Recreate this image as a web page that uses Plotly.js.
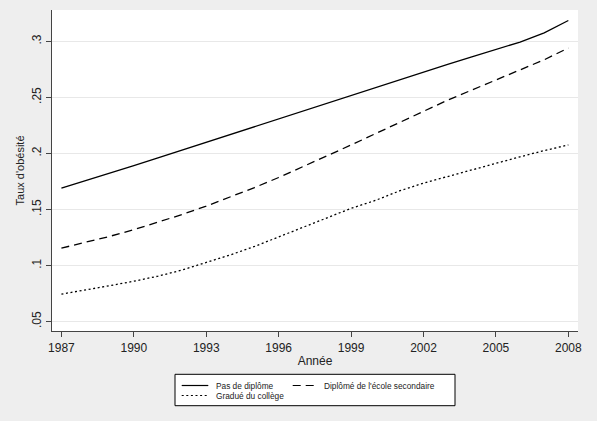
<!DOCTYPE html>
<html>
<head>
<meta charset="utf-8">
<script src="https://cdn.plot.ly/plotly-3.0.1.min.js"></script>
<style>html,body{margin:0;padding:0;background:#eeeeee;}#chart{width:597px;height:421px;}</style>
</head>
<body>
<div id="chart"></div>
<script>
// ---- Data ----
const years = [1987,1988,1989,1990,1991,1992,1993,1994,1995,1996,1997,1998,1999,2000,2001,2002,2003,2004,2005,2006,2007,2008];
const pasDeDiplome = [0.169,0.1755,0.182,0.189,0.196,0.203,0.210,0.217,0.224,0.231,0.238,0.245,0.252,0.259,0.266,0.273,0.2795,0.286,0.2925,0.2993,0.3075,0.3185];
const diplomeSecondaire = [0.1155,0.1205,0.126,0.132,0.1385,0.1455,0.153,0.161,0.1695,0.1785,0.188,0.1975,0.2075,0.2175,0.2275,0.238,0.2475,0.2565,0.2655,0.2745,0.2835,0.294];
const gradueCollege = [0.0745,0.078,0.082,0.086,0.0905,0.096,0.1025,0.1095,0.117,0.1255,0.134,0.1425,0.151,0.158,0.1665,0.1735,0.1795,0.1855,0.1915,0.197,0.2025,0.2075];
const seriesNames = ["Pas de diplôme","Diplômé de l'école secondaire","Gradué du collège"];
const xTickVals = [1987,1990,1993,1996,1999,2002,2005,2008];
const yTickVals = [0.05,0.10,0.15,0.20,0.25,0.30];
const yTickText = [".05",".1",".15",".2",".25",".3"];
const xTitle = "Année";
const yTitle = "Taux d'obésité";

// ---- Layout helpers ----
const W = 597, H = 421;
const M = {l:52, r:19, t:10, b:90};
const PW = W - M.l - M.r, PH = H - M.t - M.b;
const px2x = p => (p - M.l) / PW;
const px2y = p => (H - M.b - p) / PH;

const FONT = "Liberation Sans, Arial, Helvetica, sans-serif";
const dashes = ["solid", "8px,5px", "2px,2.6px"];
const seriesVals = [pasDeDiplome, diplomeSecondaire, gradueCollege];

const traces = seriesVals.map((vals, i) => ({
  x: years, y: vals, type: "scatter", mode: "lines", name: seriesNames[i],
  line: {color: "#000000", width: 1.3, dash: dashes[i]},
  showlegend: false, hoverinfo: "skip"
}));

// manual Stata-style legend
const legendItems = [
  {name: seriesNames[0], x0: 181.7, x1: 208.3, tx: 214, ty: 385.5, dash: "solid"},
  {name: seriesNames[1], x0: 292.7, x1: 316.7, tx: 321.5, ty: 385.5, dash: "8px,5px"},
  {name: seriesNames[2], x0: 181.7, x1: 209, tx: 214, ty: 395.5, dash: "2px,2.6px"}
];
const shapes = [{
  type: "rect", xref: "paper", yref: "paper",
  x0: px2x(175), x1: px2x(455), y0: px2y(405.7), y1: px2y(374.3),
  line: {color: "#000000", width: 1}, fillcolor: "#ffffff", layer: "above"
}];
const annotations = [];
legendItems.forEach(it => {
  shapes.push({type: "line", xref: "paper", yref: "paper",
    x0: px2x(it.x0), x1: px2x(it.x1), y0: px2y(it.ty), y1: px2y(it.ty),
    line: {color: "#000000", width: 1.2, dash: it.dash}, layer: "above"});
  annotations.push({xref: "paper", yref: "paper", x: px2x(it.tx), y: px2y(it.ty),
    xanchor: "left", yanchor: "middle", showarrow: false, text: it.name,
    font: {family: FONT, size: 8.3, color: "#222222"}});
});

const layout = {
  width: W, height: H,
  margin: M,
  paper_bgcolor: "#eeeeee",
  plot_bgcolor: "#ffffff",
  showlegend: false,
  font: {family: FONT, color: "#222222"},
  xaxis: {
    range: [1986.61, 2008.40],
    tickvals: xTickVals,
    ticks: "outside", ticklen: 5, tickcolor: "#444444", tickwidth: 1,
    showline: true, linecolor: "#444444", linewidth: 1.2,
    showgrid: false, zeroline: false,
    tickfont: {family: FONT, size: 12, color: "#222222"},
    title: {text: xTitle, font: {family: FONT, size: 12, color: "#222222"}, standoff: 3}
  },
  yaxis: {
    range: [0.0416, 0.3279],
    tickvals: yTickVals, ticktext: yTickText,
    tickangle: -90,
    ticks: "outside", ticklen: 5, tickcolor: "#444444", tickwidth: 1,
    showline: true, linecolor: "#444444", linewidth: 1.2,
    showgrid: true, gridcolor: "#e8e8e8", gridwidth: 1,
    zeroline: false,
    tickfont: {family: FONT, size: 12, color: "#222222"},
    title: {text: yTitle, font: {family: FONT, size: 11, color: "#222222"}, standoff: 3}
  },
  shapes: shapes,
  annotations: annotations
};

Plotly.newPlot("chart", traces, layout, {displayModeBar: false, staticPlot: true});
</script>
</body>
</html>
